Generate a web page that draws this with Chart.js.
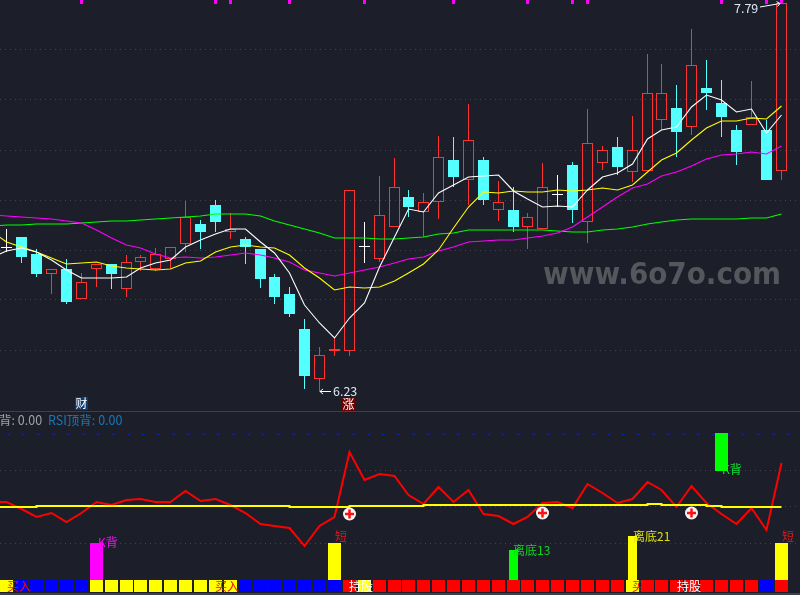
<!DOCTYPE html>
<html>
<head>
<meta charset="utf-8">
<script src="https://cdn.jsdelivr.net/npm/chart.js@4/dist/chart.umd.js"></script>
<style>
    html, body { margin: 0; padding: 0; background: #1c1f29; overflow: hidden; }
    canvas { position: absolute; left: 0; display: block; }
    #main-chart { top: 0; }
    #sub-chart { top: 411px; }
</style>
</head>
<body>
<canvas id="main-chart" width="800" height="411"></canvas>
<canvas id="sub-chart" width="800" height="184"></canvas>
<script>
// Candle values, one entry per visible bar
const opens = [6.802, 6.846, 6.778, 6.698, 6.718, 6.598, 6.718, 6.738, 6.638, 6.746, 6.718, 6.758, 6.818, 6.898, 6.974, 6.866, 6.838, 6.798, 6.686, 6.618, 6.478, 6.278, 6.390, 6.390, 6.806, 6.758, 6.886, 7.006, 6.946, 6.986, 7.154, 7.074, 7.154, 6.954, 6.954, 6.886, 6.878, 7.014, 7.134, 6.906, 7.142, 7.206, 7.106, 7.110, 7.314, 7.362, 7.286, 7.442, 7.382, 7.274, 7.294, 7.274, 7.110];
const closes = [6.802, 6.766, 6.698, 6.718, 6.586, 6.666, 6.738, 6.698, 6.746, 6.766, 6.778, 6.806, 6.926, 6.866, 6.906, 6.878, 6.806, 6.678, 6.606, 6.538, 6.290, 6.374, 6.398, 7.034, 6.806, 6.934, 7.046, 6.966, 6.986, 7.166, 7.086, 7.234, 6.994, 6.986, 6.886, 6.926, 7.046, 7.014, 6.954, 7.222, 7.194, 7.126, 7.194, 7.422, 7.422, 7.266, 7.534, 7.422, 7.326, 7.186, 7.326, 7.074, 7.782];
const highs = [6.878, 6.846, 6.798, 6.718, 6.758, 6.702, 6.738, 6.738, 6.774, 6.774, 6.802, 6.806, 6.990, 6.914, 6.994, 6.942, 6.846, 6.798, 6.698, 6.646, 6.518, 6.406, 6.442, 7.034, 6.906, 7.090, 7.162, 7.034, 7.022, 7.250, 7.246, 7.378, 7.166, 7.070, 7.046, 6.942, 7.142, 7.094, 7.146, 7.358, 7.210, 7.246, 7.330, 7.578, 7.538, 7.454, 7.678, 7.554, 7.474, 7.294, 7.470, 7.314, 7.782];
const lows = [6.786, 6.742, 6.686, 6.618, 6.578, 6.598, 6.646, 6.638, 6.606, 6.710, 6.710, 6.718, 6.786, 6.798, 6.866, 6.838, 6.738, 6.642, 6.578, 6.526, 6.238, 6.226, 6.370, 6.370, 6.742, 6.746, 6.886, 6.926, 6.846, 6.918, 7.046, 6.974, 6.974, 6.910, 6.866, 6.798, 6.878, 6.966, 6.902, 6.822, 7.114, 7.094, 7.066, 7.110, 7.274, 7.166, 7.254, 7.354, 7.246, 7.134, 7.294, 7.074, 7.074];

// Moving averages, these start one bar earlier (off the left edge)
const ma5 = [6.766, 6.790, 6.802, 6.786, 6.754, 6.714, 6.682, 6.682, 6.682, 6.686, 6.722, 6.742, 6.754, 6.806, 6.834, 6.858, 6.878, 6.878, 6.826, 6.782, 6.702, 6.574, 6.502, 6.442, 6.522, 6.582, 6.726, 6.846, 6.958, 6.946, 7.022, 7.054, 7.086, 7.090, 7.094, 7.030, 6.998, 6.966, 6.970, 6.966, 7.034, 7.086, 7.102, 7.138, 7.238, 7.274, 7.286, 7.366, 7.414, 7.394, 7.346, 7.358, 7.262, 7.334];
const ma10 = [6.866, 6.826, 6.806, 6.786, 6.762, 6.738, 6.742, 6.746, 6.730, 6.722, 6.718, 6.714, 6.718, 6.742, 6.750, 6.786, 6.806, 6.814, 6.806, 6.802, 6.774, 6.722, 6.682, 6.634, 6.646, 6.642, 6.646, 6.670, 6.702, 6.738, 6.794, 6.882, 6.966, 7.026, 7.022, 7.030, 7.026, 7.026, 7.034, 7.030, 7.034, 7.042, 7.034, 7.054, 7.106, 7.154, 7.182, 7.234, 7.282, 7.310, 7.310, 7.322, 7.318, 7.370];
const ma20 = [6.934, 6.930, 6.926, 6.922, 6.918, 6.910, 6.902, 6.874, 6.842, 6.814, 6.802, 6.778, 6.762, 6.766, 6.762, 6.766, 6.774, 6.782, 6.774, 6.762, 6.746, 6.714, 6.702, 6.690, 6.702, 6.714, 6.726, 6.742, 6.758, 6.766, 6.790, 6.806, 6.826, 6.830, 6.834, 6.834, 6.842, 6.850, 6.862, 6.886, 6.926, 6.966, 7.006, 7.042, 7.058, 7.090, 7.106, 7.130, 7.158, 7.174, 7.178, 7.186, 7.178, 7.210];
const ma60 = [6.890, 6.894, 6.894, 6.898, 6.898, 6.898, 6.902, 6.906, 6.910, 6.910, 6.914, 6.918, 6.922, 6.926, 6.930, 6.938, 6.938, 6.938, 6.930, 6.910, 6.894, 6.878, 6.862, 6.842, 6.842, 6.842, 6.838, 6.838, 6.842, 6.846, 6.858, 6.862, 6.874, 6.874, 6.874, 6.874, 6.874, 6.874, 6.870, 6.866, 6.866, 6.874, 6.878, 6.886, 6.898, 6.906, 6.914, 6.918, 6.918, 6.918, 6.918, 6.922, 6.922, 6.938];

// Bars that carry a magenta flag on the top edge
const topFlags = [5, 14, 15, 19, 24, 30, 35, 38, 39, 48, 51, 52];

// Lower pane
const rsiLine = [52, 52, 48.5, 44.5, 46.5, 42, 46.5, 52, 50.5, 53, 53.5, 52, 52, 57.5, 52.5, 53.5, 50.5, 46.5, 41, 40, 39, 30, 40, 44.5, 77, 63, 66, 65, 55.5, 51, 59.5, 52, 58, 46, 45, 41, 44.5, 51.5, 52, 49, 61, 56.5, 51.5, 53.5, 62, 58, 49.5, 60, 51.5, 46, 41, 49, 38, 71.5];
const signalLine = [49.5, 49.5, 49.5, 50, 50, 50, 50, 50, 50, 50, 50, 50, 50, 50, 50, 50, 50, 50, 50, 50, 49.5, 49.5, 49.5, 49.5, 50, 50, 50, 50, 50, 50.5, 50.5, 50.5, 50.5, 50.5, 50.5, 50.5, 50.5, 50.5, 50.5, 50.5, 50.5, 50.5, 50.5, 50.5, 51, 50.5, 50.5, 50.5, 50, 49.5, 49.5, 49.5, 49.5, 49.5];
const crossBars = [23, 36, 46];
const crossValues = [46, 46.5, 46.5];
const blockStates = 'YBBBBBYYYYYYYYYYBBBBBBBRYRRRRRRRRRRRRRRRRRYRRRRRRRRBR'.split('');
const wideBars = [6, 22, 48, 52];
const wideBarTops = [31.5, 31.5, 86.5, 31.5];
const wideBarBottoms = [13, 13, 67.5, 13];
const wideBarColors = ['#ff00ff', '#ffff00', '#00ff00', '#ffff00'];
const narrowBars = [34, 42];
const narrowBarTops = [28, 35];
const narrowBarBottoms = [13, 7];
const narrowBarColors = ['#00ff00', '#ffff00'];

const priceTicks = [7.594, 7.394, 7.194, 6.994, 6.794, 6.594, 6.394];
const subTicks = [68, 50, 31.5];

const UP = '#ff3232';
const DOWN = '#54ffff';
const FLAT = '#ffffff';
const GRID = '#41444e';
const CJK = '"Noto Sans CJK SC", "Noto Sans", sans-serif';

// Terminal-style charts sit on whole pixels, so snap the index axis
class SnapScale extends Chart.LinearScale {
    getPixelForValue(value) {
        return Math.floor(super.getPixelForValue(value)) + 0.5;
    }
}
SnapScale.id = 'snapLinear';
SnapScale.defaults = Chart.LinearScale.defaults;
Chart.register(SnapScale);

function candleColor(i) {
    if (closes[i] > opens[i]) return UP;
    if (closes[i] < opens[i]) return DOWN;
    return FLAT;
}

function series(values, color, order, width) {
    return {
        type: 'line',
        data: values.map((y, i) => ({ x: i - 1, y: y })),
        borderColor: color,
        borderWidth: width,
        pointRadius: 0,
        tension: 0,
        order: order
    };
}

function bars(data, colors, thickness, order) {
    return {
        type: 'bar',
        data: data,
        backgroundColor: colors,
        borderWidth: 0,
        barThickness: thickness,
        grouped: false,
        inflateAmount: 0,
        order: order
    };
}

function text(ctx, str, x, y, color, font) {
    ctx.font = font || ('12px ' + CJK);
    ctx.fillStyle = color;
    ctx.textAlign = 'left';
    ctx.textBaseline = 'middle';
    ctx.fillText(str, x, y);
}

function arrow(ctx, x1, y1, x2, y2) {
    const angle = Math.atan2(y2 - y1, x2 - x1);
    ctx.strokeStyle = '#ffffff';
    ctx.lineWidth = 1;
    ctx.beginPath();
    ctx.moveTo(x1, y1);
    ctx.lineTo(x2, y2);
    ctx.moveTo(x2 - 4 * Math.cos(angle - 0.7), y2 - 4 * Math.sin(angle - 0.7));
    ctx.lineTo(x2, y2);
    ctx.lineTo(x2 - 4 * Math.cos(angle + 0.7), y2 - 4 * Math.sin(angle + 0.7));
    ctx.stroke();
}

function badge(ctx, str, x, y, bg) {
    ctx.fillStyle = bg;
    ctx.fillRect(x, y, 13, 13);
    text(ctx, str, x + 0.5, y + 6.5, '#ffffff');
}

const mainLabels = {
    id: 'mainLabels',
    beforeDatasetsDraw(chart) {
        const ctx = chart.ctx;
        ctx.save();
        ctx.textAlign = 'left';
        ctx.textBaseline = 'middle';
        ctx.font = 'bold 30px "DejaVu Sans"';
        ctx.fillStyle = '#55575d';
        ctx.fillText('www.6o7o.com', 543, 276, 238);
        ctx.restore();
    },
    afterDatasetsDraw(chart) {
        const ctx = chart.ctx;
        ctx.save();
        text(ctx, '6.23', 333, 391, '#dce8f4', '12.5px ' + CJK);
        arrow(ctx, 331, 391.5, 320, 391.5);
        text(ctx, '7.79', 734, 8, '#dce8f4', '12.5px ' + CJK);
        arrow(ctx, 760, 7, 780, 3.5);
        badge(ctx, '财', 75, 397, '#0a3c6e');
        badge(ctx, '涨', 342, 398, '#6e0000');
        ctx.restore();
    }
};

const subLabels = {
    id: 'subLabels',
    beforeDatasetsDraw(chart) {
        // these two sit behind their bars
        const ctx = chart.ctx;
        const top = chart.canvas.offsetTop;
        ctx.save();
        text(ctx, 'K背', 98, 542 - top, '#f010f0');
        text(ctx, 'K背', 722, 469 - top, '#10e030');
        ctx.restore();
    },
    afterDatasetsDraw(chart) {
        const ctx = chart.ctx;
        const top = chart.canvas.offsetTop;
        ctx.save();
        ctx.fillStyle = '#3c404c';
        ctx.fillRect(0, 0, 800, 1);
        ctx.fillRect(0, 182, 800, 2);
        text(ctx, '背: 0.00', -1, 420 - top, '#a0a4a8', '12.5px ' + CJK);
        text(ctx, 'RSI顶背: 0.00', 48, 420 - top, '#1878b8', '12.5px ' + CJK);
        text(ctx, '短', 335, 536 - top, '#e01818');
        text(ctx, '短', 782, 536 - top, '#e01818');
        text(ctx, '离底13', 513, 550 - top, '#10d820');
        text(ctx, '离底21', 633, 536 - top, '#e0e010');
        text(ctx, '买入', 7, 586 - top, '#f01010');
        text(ctx, '买入', 215, 586 - top, '#f01010');
        text(ctx, '买', 632, 586 - top, '#f01010');
        text(ctx, '持股', 349, 586 - top, '#ffffff');
        text(ctx, '持股', 677, 586 - top, '#ffffff');
        ctx.restore();
    }
};

const blockColors = { Y: '#ffff00', B: '#0000ff', R: '#ff0000' };

function baseOptions(yMin, yMax, ticks) {
    return {
        responsive: false,
        animation: false,
        events: [],
        layout: { padding: 0, autoPadding: false },
        plugins: { legend: { display: false }, tooltip: { enabled: false } },
        scales: {
            x: { type: 'snapLinear', display: false, offset: false, min: -0.47, max: 53.275, grid: { display: false } },
            y: {
                min: yMin,
                max: yMax,
                afterBuildTicks: scale => { scale.ticks = ticks.map(value => ({ value: value })); },
                ticks: { display: false },
                border: { display: false, dash: [1, 4] },
                grid: { color: GRID, lineWidth: 1, drawTicks: false }
            }
        }
    };
}

function loadMainChart() {
    const bodies = opens.map((o, i) => ({ x: i, y: [Math.min(o, closes[i]), Math.max(o, closes[i])] }));
    const upperWicks = opens.map((o, i) => ({ x: i, y: [Math.max(o, closes[i]), highs[i]] }));
    const lowerWicks = opens.map((o, i) => ({ x: i, y: [lows[i], Math.min(o, closes[i])] }));
    const candleColors = opens.map((o, i) => candleColor(i));

    new Chart(document.getElementById('main-chart'), {
        type: 'bar',
        data: {
            datasets: [
                series(ma5, '#ffffff', 1, 1.1),
                series(ma10, '#ffff00', 2, 1.1),
                series(ma20, '#ff00ff', 3, 1.1),
                series(ma60, '#00ff00', 4, 1.1),
                {
                    type: 'bar',
                    data: bodies,
                    backgroundColor: opens.map((o, i) => closes[i] > o ? 'transparent' : candleColors[i]),
                    borderColor: candleColors,
                    borderWidth: 1,
                    borderSkipped: false,
                    barThickness: 11,
                    minBarLength: 1,
                    grouped: false,
                    inflateAmount: 0,
                    order: 10
                },
                bars(upperWicks, candleColors, 1, 11),
                bars(lowerWicks, candleColors, 1, 11),
                bars(topFlags.map(i => ({ x: i, y: [7.778, 7.794] })), '#ff00ff', 3, 12)
            ]
        },
        options: baseOptions(6.15, 7.794, priceTicks),
        plugins: [mainLabels]
    });
}

function loadSubChart() {
    const level = [-1, 54].map(x => ({ x: x, y: 85.75 }));

    new Chart(document.getElementById('sub-chart'), {
        type: 'bar',
        data: {
            datasets: [
                {
                    type: 'line',
                    data: crossBars.map((x, i) => ({ x: x, y: crossValues[i] })),
                    showLine: false,
                    pointStyle: 'cross',
                    pointRadius: 4.5,
                    pointBorderColor: '#ff1010',
                    pointBorderWidth: 2.5,
                    order: 0
                },
                {
                    type: 'line',
                    data: crossBars.map((x, i) => ({ x: x, y: crossValues[i] })),
                    showLine: false,
                    pointStyle: 'circle',
                    pointRadius: 6.5,
                    pointBackgroundColor: '#f4f4f4',
                    pointBorderWidth: 0,
                    order: 1
                },
                Object.assign(series(signalLine, '#ffff00', 2, 2), { stepped: true }),
                series(rsiLine, '#ff0000', 3, 2),
                bars(narrowBars.map((x, i) => ({ x: x, y: [narrowBarBottoms[i], narrowBarTops[i]] })), narrowBarColors, 9, 5),
                bars(wideBars.map((x, i) => ({ x: x, y: [wideBarBottoms[i], wideBarTops[i]] })), wideBarColors, 13, 6),
                bars(blockStates.map((s, i) => ({ x: i, y: [7, 13] })), blockStates.map(s => blockColors[s]), 13, 7),
                {
                    type: 'line',
                    data: level,
                    borderColor: '#0a22d8',
                    borderWidth: 1,
                    borderDash: [2, 13],
                    pointRadius: 0,
                    order: 8
                }
            ]
        },
        options: baseOptions(5.5, 97.5, subTicks),
        plugins: [subLabels]
    });
}

loadMainChart();
loadSubChart();
</script>
</body>
</html>
